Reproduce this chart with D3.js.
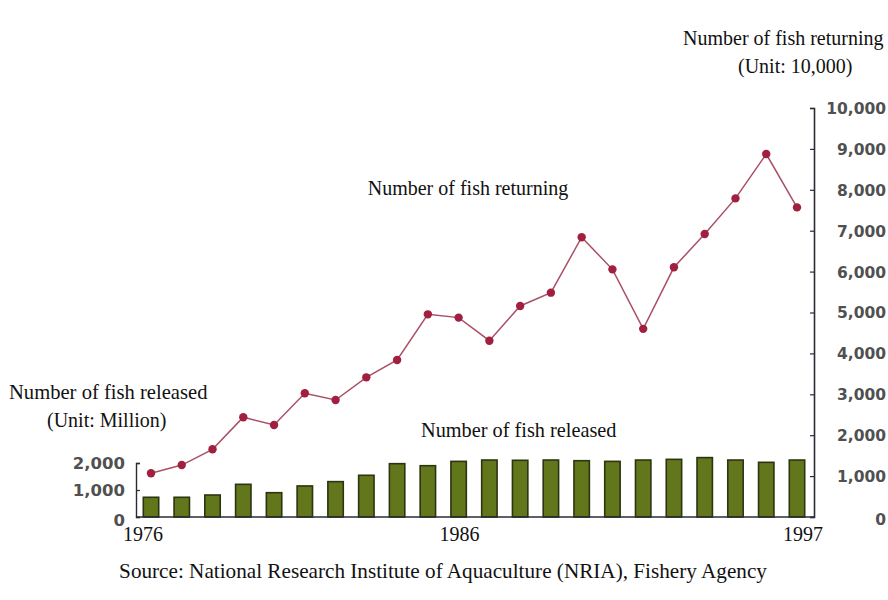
<!DOCTYPE html>
<html>
<head>
<meta charset="utf-8">
<script src="https://cdn.jsdelivr.net/npm/d3@7"></script>
<style>
  html, body { margin: 0; padding: 0; background: #ffffff; }
  svg { display: block; }
  .serif { font-family: "Liberation Serif", "Times New Roman", serif; font-size: 20px; fill: #111; }
  .num { font-family: "DejaVu Sans", Arial, sans-serif; font-size: 16.5px; font-weight: bold; fill: #505050; }
  .num-r { font-size: 15.5px; }
</style>
</head>
<body>
<script>
// Salmon hatchery statistics, 1976–1997
const years = d3.range(1976, 1998);
// Fish released (million)
const released = [730, 730, 815, 1210, 900, 1150, 1310, 1545, 1975, 1900, 2060,
                  2110, 2100, 2110, 2085, 2060, 2110, 2135, 2200, 2110, 2025, 2110];
// Fish returning (unit: 10,000)
const returning = [1070, 1270, 1655, 2440, 2250, 3025, 2860, 3415, 3840, 4955, 4875,
                   4310, 5160, 5485, 6840, 6055, 4600, 6105, 6920, 7790, 8875, 7570];
const leftTicks = [0, 1000, 2000];
const rightTicks = d3.range(0, 10001, 1000);
const yearLabels = [1976, 1986, 1997];

const W = 888, H = 600;
const svg = d3.select("body").append("svg").attr("width", W).attr("height", H);

const base = 517;
const x = d3.scalePoint().domain(years).range([151, 797]);
const yL = d3.scaleLinear().domain([0, 2000]).range([base, 463]);
const yR = d3.scaleLinear().domain([0, 10000]).range([base, 108]);

const axisColor = "#2b2b33";
const fmt = d3.format(",");

// bars: fish released
svg.append("g").selectAll("rect").data(years).join("rect")
  .attr("x", d => x(d) - 7.7)
  .attr("width", 15.4)
  .attr("y", (d, i) => yL(released[i]))
  .attr("height", (d, i) => base - yL(released[i]))
  .attr("fill", "#62771c")
  .attr("stroke", "#2c3410")
  .attr("stroke-width", 1.6);

// baseline
svg.append("line").attr("x1", 136).attr("x2", 814).attr("y1", base).attr("y2", base)
  .attr("stroke", axisColor).attr("stroke-width", 1.6);

// left axis
const gL = svg.append("g").attr("transform", "translate(136,0)")
  .call(d3.axisRight(yL).tickValues(leftTicks).tickSize(4).tickFormat(fmt));
gL.select(".domain").attr("stroke", axisColor).attr("stroke-width", 1.4);
gL.selectAll(".tick line").attr("stroke", axisColor).attr("stroke-width", 1.2);
gL.selectAll(".tick text").attr("class", "num").attr("x", -11).attr("text-anchor", "end")
  .attr("dy", (d) => d === 0 ? "0.5em" : "0.35em");

// right axis
const gR = svg.append("g").attr("transform", "translate(814,0)")
  .call(d3.axisLeft(yR).tickValues(rightTicks).tickSize(4).tickFormat(fmt));
gR.select(".domain").attr("stroke", axisColor).attr("stroke-width", 1.6);
gR.selectAll(".tick line").attr("stroke", axisColor).attr("stroke-width", 1.2);
gR.selectAll(".tick text").attr("class", "num num-r").attr("x", 72).attr("text-anchor", "end")
  .attr("dy", (d) => d === 0 ? "0.5em" : "0.35em");

// line: fish returning
const line = d3.line().x((d, i) => x(years[i])).y(d => yR(d));
svg.append("path").datum(returning).attr("d", line)
  .attr("fill", "none").attr("stroke", "#aa5066").attr("stroke-width", 1.5);
svg.append("g").selectAll("circle").data(returning).join("circle")
  .attr("cx", (d, i) => x(years[i])).attr("cy", d => yR(d)).attr("r", 4.2)
  .attr("fill", "#a2203f");

// year labels
svg.append("g").selectAll("text").data(yearLabels).join("text")
  .attr("class", "serif")
  .attr("x", (d, i) => x(d) + (i === 0 ? -8 : i === yearLabels.length - 1 ? 6 : 1))
  .attr("y", 541).attr("text-anchor", "middle").text(d => d);

// annotations
const notes = [
  { t: "Number of fish returning", x: 683, y: 45, a: "start", s: 20 },
  { t: "(Unit: 10,000)", x: 738, y: 73, a: "start", s: 20 },
  { t: "Number of fish returning", x: 468, y: 195, a: "middle", s: 20 },
  { t: "Number of fish released", x: 9, y: 399, a: "start", s: 20.6 },
  { t: "(Unit: Million)", x: 47, y: 427, a: "start", s: 20 },
  { t: "Number of fish released", x: 421, y: 437, a: "start", s: 20.3 },
  { t: "Source: National Research Institute of Aquaculture (NRIA), Fishery Agency", x: 443, y: 578, a: "middle", s: 21.2 }
];
svg.append("g").selectAll("text").data(notes).join("text")
  .attr("class", "serif")
  .style("font-size", d => d.s + "px")
  .attr("x", d => d.x).attr("y", d => d.y).attr("text-anchor", d => d.a).text(d => d.t);
</script>
</body>
</html>
